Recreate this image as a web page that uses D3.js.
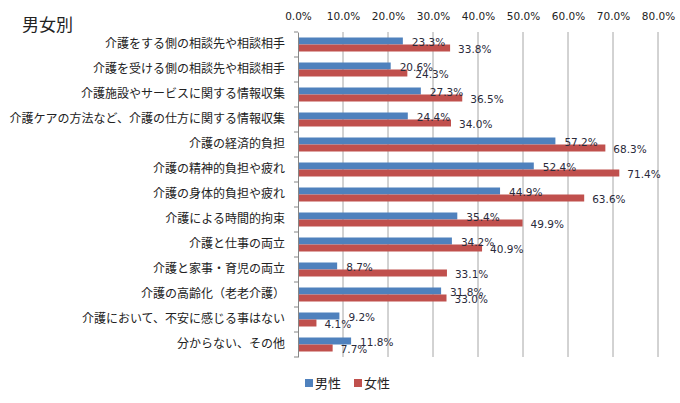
<!DOCTYPE html>
<html lang="ja">
<head>
  <meta charset="UTF-8">
  <title>男女別</title>
  <script src="https://d3js.org/d3.v7.min.js"></script>
  <style>
    body { margin: 0; background: #fff; }
    svg { display: block; }
    .cat { font-family: "Noto Sans CJK JP", sans-serif; font-size: 12px; fill: #222; }
    .tick text { font-family: "DejaVu Sans", sans-serif; font-size: 10.5px; fill: #222; }
    .lbl { font-family: "DejaVu Sans", sans-serif; font-size: 10.5px; fill: #2a2a3a; }
  </style>
</head>
<body>
  <svg width="680" height="403"></svg>
  <script>
    // data
    const categories = [
      "介護をする側の相談先や相談相手",
      "介護を受ける側の相談先や相談相手",
      "介護施設やサービスに関する情報収集",
      "介護ケアの方法など、介護の仕方に関する情報収集",
      "介護の経済的負担",
      "介護の精神的負担や疲れ",
      "介護の身体的負担や疲れ",
      "介護による時間的拘束",
      "介護と仕事の両立",
      "介護と家事・育児の両立",
      "介護の高齢化（老老介護）",
      "介護において、不安に感じる事はない",
      "分からない、その他"
    ];
    const male = [23.3, 20.6, 27.3, 24.4, 57.2, 52.4, 44.9, 35.4, 34.2, 8.7, 31.8, 9.2, 11.8];
    const female = [33.8, 24.3, 36.5, 34.0, 68.3, 71.4, 63.6, 49.9, 40.9, 33.1, 33.0, 4.1, 7.7];
    const seriesNames = ["男性", "女性"];
    const xTicks = [0, 10, 20, 30, 40, 50, 60, 70, 80];

    const colors = ["#4f81bd", "#c0504d"];
    const svg = d3.select("svg");
    const margin = { top: 32, left: 298, right: 22, bottom: 46 };
    const width = 680, height = 403;

    const x = d3.scaleLinear().domain([0, 80]).range([margin.left, width - margin.right]);
    const y = d3.scaleBand().domain(categories).range([margin.top, height - margin.bottom]).paddingInner(0.44).paddingOuter(0.22);
    const y1 = d3.scaleBand().domain(seriesNames).range([0, y.bandwidth()]);

    // title
    svg.append("text")
      .attr("x", 22).attr("y", 31)
      .attr("font-family", "Noto Sans CJK JP, sans-serif")
      .attr("font-size", 17).attr("fill", "#222")
      .text("男女別");

    // gridlines
    svg.append("g")
      .selectAll("line")
      .data(xTicks.slice(1))
      .join("line")
      .attr("x1", d => x(d)).attr("x2", d => x(d))
      .attr("y1", margin.top).attr("y2", height - margin.bottom)
      .attr("stroke", "#a6a6a6").attr("stroke-width", 1);

    // top axis
    const xAxis = d3.axisTop(x).tickValues(xTicks).tickSize(0).tickPadding(0)
      .tickFormat(d => d.toFixed(1) + "%");
    svg.append("g")
      .attr("transform", `translate(0,${margin.top - 16})`)
      .call(xAxis)
      .call(g => g.select(".domain").remove())
      .selectAll("text").attr("dy", "0.35em");

    // bars
    const rows = categories.map((c, i) => ({ cat: c, vals: [male[i], female[i]] }));
    const groups = svg.append("g").selectAll("g")
      .data(rows)
      .join("g")
      .attr("transform", d => `translate(0,${y(d.cat)})`);

    groups.selectAll("rect")
      .data(d => d.vals.map((v, k) => ({ v, k })))
      .join("rect")
      .attr("x", x(0))
      .attr("y", d => y1(seriesNames[d.k]))
      .attr("width", d => x(d.v) - x(0))
      .attr("height", y1.bandwidth())
      .attr("fill", d => colors[d.k]);

    groups.selectAll("text.lbl")
      .data(d => d.vals.map((v, k) => ({ v, k })))
      .join("text")
      .attr("class", "lbl")
      .attr("x", d => x(d.v) + (d.k === 0 ? 9 : 8))
      .attr("y", d => y1(seriesNames[d.k]) + y1.bandwidth() / 2 + (d.k === 0 ? 1.5 : 1))
      .attr("dy", "0.35em")
      .text(d => d.v.toFixed(1) + "%");

    // left axis
    const yAxis = d3.axisLeft(y).tickSize(0).tickPadding(13);
    const gy = svg.append("g")
      .attr("transform", `translate(${margin.left},0)`)
      .call(yAxis);
    gy.select(".domain").attr("stroke", "#868686");
    gy.selectAll("text").attr("class", "cat").style("font-size", "12px")
      .style("font-family", "Noto Sans CJK JP, sans-serif");

    const edges = categories.map((c, i) => margin.top + i * (height - margin.bottom - margin.top) / categories.length)
      .concat([height - margin.bottom]);
    svg.append("g").selectAll("line")
      .data(edges)
      .join("line")
      .attr("x1", margin.left - 4).attr("x2", margin.left)
      .attr("y1", d => d).attr("y2", d => d)
      .attr("stroke", "#868686");

    // legend
    const legend = svg.append("g").attr("transform", "translate(305,383)");
    const items = legend.selectAll("g")
      .data(seriesNames)
      .join("g")
      .attr("transform", (d, i) => `translate(${i * 49},0)`);
    items.append("rect")
      .attr("x", 0).attr("y", -4).attr("width", 8).attr("height", 8)
      .attr("fill", (d, i) => colors[i]);
    items.append("text")
      .attr("x", 10).attr("y", 0).attr("dy", "0.35em")
      .attr("font-family", "Noto Sans CJK JP, sans-serif")
      .attr("font-size", 13).attr("fill", "#222")
      .text(d => d);
  </script>
</body>
</html>
